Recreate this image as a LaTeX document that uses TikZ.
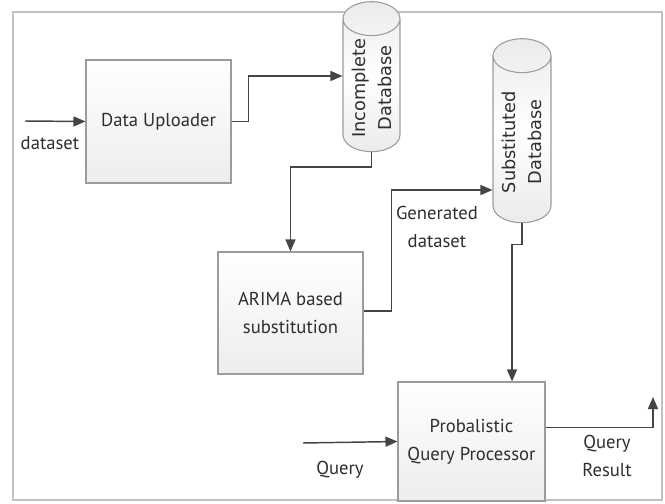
\documentclass[tikz,border=0pt]{standalone}
\usepackage{fontspec}
\setmainfont{PT Sans}
\newfontfamily\dbfont{DejaVu Sans}
\usepackage{xcolor}
\usepackage{tikz}
\usetikzlibrary{shapes,shapes.geometric,arrows.meta,positioning}
\definecolor{linecol}{HTML}{454545}
\definecolor{textcol}{HTML}{2E2E2E}
\definecolor{edgecol}{HTML}{9C9C9C}
\definecolor{framecol}{HTML}{C0C0C0}
\tikzset{
  block/.style={draw=edgecol, line width=0.8pt, top color=white, bottom color=gray!14, text=textcol,
    font=\fontsize{14}{21}\selectfont, align=center, inner sep=2pt},
  dbase/.style={cylinder, draw=edgecol, line width=0.8pt, rotate=90, aspect=0.8, inner sep=1pt,
    top color=gray!16, bottom color=gray!16, middle color=white, text=textcol,
    font=\dbfont\fontsize{13.3}{19.5}\selectfont, align=center},
  arr/.style={draw=linecol, line width=1.1pt, -{Triangle[length=9pt,width=7.5pt]}},
  lbl/.style={text=textcol, font=\fontsize{14}{21}\selectfont, align=center}
}

\begin{document}
\begin{tikzpicture}[x=0.75pt,y=-0.75pt]
    \useasboundingbox (0,0) rectangle (665,504);
    % Frame
    \draw[framecol, line width=1.2pt] (13,12) rectangle (662,500);

    % Blocks
    \node[block, minimum width=108.75pt, minimum height=92.25pt] (upl) at (158.5,121.5) {Data Uploader};
    \node[block, minimum width=108.75pt, minimum height=91.5pt] (arima) at (290.5,313) {ARIMA based\\substitution};
    \node[block, minimum width=110.25pt, minimum height=89.25pt] (proc) at (471.5,441.5) {Probalistic\\Query Processor};

    % Databases
    \node[dbase, minimum width=42.75pt, minimum height=112.5pt] (inc) at (371.5,88) {Incomplete\\Database};
    \node[dbase, minimum width=43.5pt, minimum height=138pt] (sub) at (522,142) {Substituted\\Database};

    % Free ends
    \coordinate (din) at (25,121);
    \coordinate (qin) at (303,443);
    \coordinate (qout) at (653,397);

    % Connectors
    \draw[arr] (din) -- (upl.west);
    \draw[arr] (upl.east) -- ++(17,0) |- ([yshift=9pt]inc.north);
    \draw[arr] (inc.west) -- ++(0,15) -| (arima.north);
    \draw[arr] ([yshift=1.5pt]arima.east) -- ++(28,0) |- ([yshift=-36pt]sub.north);
    \draw[arr] (sub.west) -- ++(0,21) -| ([xshift=30.4pt]proc.north);
    \draw[arr] (qin) -- (proc.west);
    \draw[arr] ([yshift=10.5pt]proc.east) -| (qout);

    % Labels
    \node[lbl] (ldata) at (50,143) {dataset};
    \node[lbl] (lgen) at (437,227) {Generated\\dataset};
    \node[lbl] (lq) at (340,470) {Query};
    \node[lbl] (lres) at (607,456) {Query\\Result};
\end{tikzpicture}
\end{document}
